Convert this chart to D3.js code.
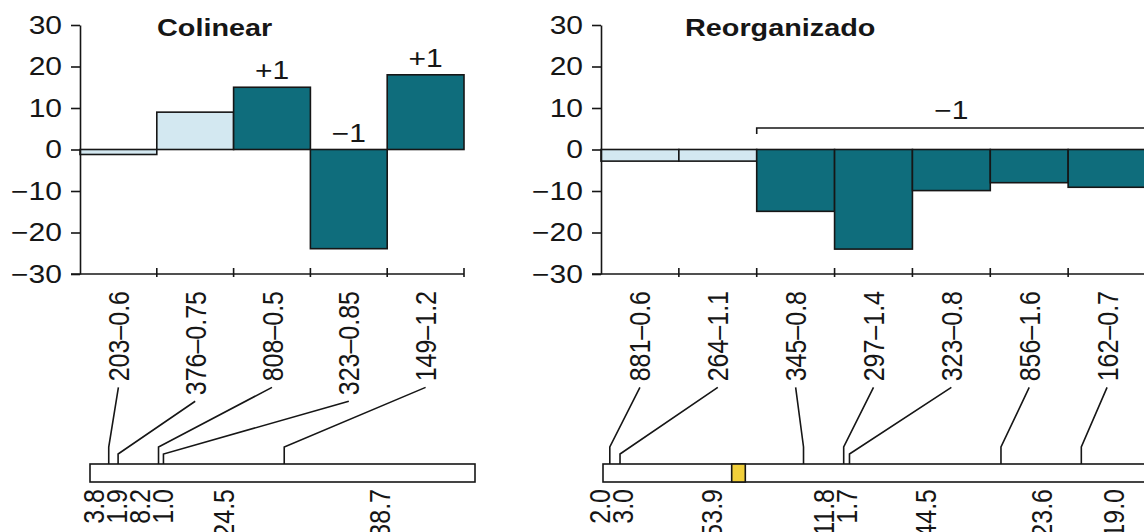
<!DOCTYPE html>
<html>
<head>
<meta charset="utf-8">
<script src="https://cdn.jsdelivr.net/npm/d3@7"></script>
<style>
  html, body { margin: 0; padding: 0; background: #fff; }
  svg { display: block; font-family: "Liberation Sans", Arial, Helvetica, sans-serif; }
</style>
</head>
<body>
<svg id="chart" width="1144" height="532"></svg>
<script>
// ---- data -------------------------------------------------------------
const yTicks = [-30, -20, -10, 0, 10, 20, 30];

// Colinear block
const colTitle = "Colinear";
const colMarkers = ["203–0.6", "376–0.75", "808–0.5", "323–0.85", "149–1.2"];
const colValues = [-1.2, 9.0, 15.0, -23.9, 18.0];
const colChanged = [false, false, true, true, true];
const colShift = ["", "", "+1", "−1", "+1"];
const colGaps = [3.8, 1.9, 8.2, 1.0, 24.5, 38.7];

// Reorganised block
const reoTitle = "Reorganizado";
const reoMarkers = ["881–0.6", "264–1.1", "345–0.8", "297–1.4", "323–0.8", "856–1.6", "162–0.7"];
const reoValues = [-2.8, -2.8, -14.9, -24.0, -9.9, -8.0, -9.1];
const reoChanged = [false, false, true, true, true, true, true];
const reoGaps = [2.0, 3.0, 53.9, 11.8, 1.7, 44.5, 23.6, 19.0];
const reoCentromere = [37.8, 41.8];
const reoBracket = { first: 2, last: 6, label: "−1" };

// ---- style ------------------------------------------------------------
const INK = "#161616";
const DARK = "#0f6d7c";
const LIGHT = "#d3e8f1";
const YELLOW = "#f1cf3b";
const SX = 1.2;          // horizontal widening of all lettering
const FS = 25;           // base font size

const svg = d3.select("#chart");

const y = d3.scaleLinear().domain([-30, 30]).range([274, 25]);

// distance labels: keep them at segment midpoints, pushing crowded ones apart
function spread(xs, gap) {
  let clusters = xs.map((x, i) => ({ ids: [i], center: x }));
  let changed = true;
  while (changed) {
    changed = false;
    for (let i = 0; i < clusters.length - 1; i++) {
      const a = clusters[i], b = clusters[i + 1];
      const aEnd = a.center + (a.ids.length - 1) * gap / 2;
      const bStart = b.center - (b.ids.length - 1) * gap / 2;
      if (bStart - aEnd < gap) {
        const ids = a.ids.concat(b.ids);
        clusters.splice(i, 2, { ids, center: d3.mean(ids, k => xs[k]) });
        changed = true;
        break;
      }
    }
  }
  const out = [];
  clusters.forEach(c => c.ids.forEach((k, j) => {
    out[k] = c.center + (j - (c.ids.length - 1) / 2) * gap;
  }));
  return out;
}

function panel(opt) {
  const g = svg.append("g");
  const x = d3.scaleBand().domain(opt.markers).range(opt.xRange).padding(0);
  const x0 = opt.xRange[0], x1 = opt.xRange[1];

  // title
  g.append("text")
    .attr("transform", `translate(${opt.titleX},36) scale(${SX},1)`)
    .attr("font-size", 24).attr("font-weight", "bold").attr("fill", INK)
    .text(opt.title);

  // bars
  g.selectAll("rect.bar").data(opt.values).join("rect")
    .attr("class", "bar")
    .attr("x", (d, i) => x(opt.markers[i]))
    .attr("width", x.bandwidth())
    .attr("y", d => y(Math.max(0, d)))
    .attr("height", d => Math.abs(y(d) - y(0)))
    .attr("fill", (d, i) => opt.changed[i] ? DARK : LIGHT)
    .attr("stroke", INK).attr("stroke-width", 1.6);

  // y axis
  const ya = g.append("g").attr("transform", `translate(${x0},0)`)
    .call(d3.axisLeft(y).tickValues(yTicks).tickSize(9).tickSizeOuter(0));
  ya.select(".domain").attr("stroke", INK).attr("stroke-width", 1.6);
  ya.selectAll(".tick line").attr("stroke", INK).attr("stroke-width", 1.6);
  ya.selectAll(".tick text")
    .attr("x", 0)
    .attr("transform", `translate(-18,0) scale(${SX},1)`)
    .attr("font-size", FS).attr("fill", INK)
    .attr("font-family", "Liberation Sans, Arial, sans-serif");

  // x baseline with band-boundary ticks
  g.append("line")
    .attr("x1", x0 - 9).attr("x2", x1).attr("y1", y(-30)).attr("y2", y(-30))
    .attr("stroke", INK).attr("stroke-width", 1.6);
  g.selectAll("line.xt").data(opt.markers).join("line")
    .attr("class", "xt")
    .attr("x1", d => x(d) + x.bandwidth()).attr("x2", d => x(d) + x.bandwidth())
    .attr("y1", y(-30) - 6).attr("y2", y(-30) + 3)
    .attr("stroke", INK).attr("stroke-width", 1.6);

  // copy-number change labels
  if (opt.shift) {
    g.selectAll("text.shift").data(opt.values).join("text")
      .attr("class", "shift")
      .attr("transform", (d, i) =>
        `translate(${x(opt.markers[i]) + x.bandwidth() / 2},${Math.min(y(d), y(0)) - 8}) scale(${SX},1)`)
      .attr("text-anchor", "middle").attr("font-size", FS).attr("fill", INK)
      .text((d, i) => opt.shift[i]);
  }
  if (opt.bracket) {
    const b = opt.bracket;
    const bx0 = x(opt.markers[b.first]);
    const bx1 = x(opt.markers[b.last]) + x.bandwidth();
    g.append("path")
      .attr("d", `M${bx0},${134}V${128}H${bx1}`)
      .attr("fill", "none").attr("stroke", INK).attr("stroke-width", 1.6);
    g.append("text")
      .attr("transform", `translate(${(bx0 + bx1) / 2},119) scale(${SX},1)`)
      .attr("text-anchor", "middle").attr("font-size", FS).attr("fill", INK)
      .text(b.label);
  }

  // rotated marker names under each band
  const labelTop = 291;
  const names = g.selectAll("text.name").data(opt.markers).join("text")
    .attr("class", "name")
    .attr("transform", d =>
      `translate(${x(d) + x.bandwidth() / 2},${labelTop}) scale(${SX},1) rotate(-90)`)
    .attr("text-anchor", "end").attr("dy", "0.35em")
    .attr("font-size", FS).attr("fill", INK)
    .text(d => d);
  const lens = names.nodes().map(n => n.getComputedTextLength());

  // chromosome bar
  const chrTop = 464, chrH = 18;
  const total = d3.sum(opt.gaps);
  const c = d3.scaleLinear().domain([0, total]).range(opt.chrRange);
  const cum = Array.from(d3.cumsum(opt.gaps));
  const markerPos = opt.markers.map((d, i) => c(cum[i]));

  g.append("rect")
    .attr("x", opt.chrRange[0]).attr("y", chrTop)
    .attr("width", opt.chrRange[1] - opt.chrRange[0]).attr("height", chrH)
    .attr("fill", "#fff").attr("stroke", INK).attr("stroke-width", 1.6);
  if (opt.centromere) {
    g.append("rect")
      .attr("x", c(opt.centromere[0])).attr("y", chrTop)
      .attr("width", c(opt.centromere[1]) - c(opt.centromere[0])).attr("height", chrH)
      .attr("fill", YELLOW).attr("stroke", INK).attr("stroke-width", 1.6);
  }

  // connectors from each name to its marker on the chromosome
  g.selectAll("path.link").data(opt.markers).join("path")
    .attr("class", "link")
    .attr("d", (d, i) => {
      const sx = x(d) + x.bandwidth() / 2;
      const sy = labelTop + lens[i] + 6;
      const mx = markerPos[i];
      const crowded = i > 0 && mx - markerPos[i - 1] < 12;
      const ey = crowded ? 454 : 447;
      return `M${sx},${sy}L${mx},${ey}V${chrTop}`;
    })
    .attr("fill", "none").attr("stroke", INK).attr("stroke-width", 1.6);

  // interval lengths under the chromosome
  const edges = [0, ...cum];
  const mids = opt.gaps.map((d, i) => c((edges[i] + edges[i + 1]) / 2));
  const lx = spread(mids, 23);
  g.selectAll("text.gap").data(opt.gaps).join("text")
    .attr("class", "gap")
    .attr("transform", (d, i) => `translate(${lx[i]},489) scale(${SX},1) rotate(-90)`)
    .attr("text-anchor", "end").attr("dy", "0.35em")
    .attr("font-size", FS).attr("fill", INK)
    .text(d => d3.format(".1f")(d));
}

panel({
  title: colTitle, titleX: 157,
  markers: colMarkers, values: colValues, changed: colChanged, shift: colShift,
  gaps: colGaps, xRange: [80, 464], chrRange: [90, 475]
});

panel({
  title: reoTitle, titleX: 685,
  markers: reoMarkers, values: reoValues, changed: reoChanged, bracket: reoBracket,
  gaps: reoGaps, centromere: reoCentromere, xRange: [601, 1146], chrRange: [603, 1146]
});
</script>
</body>
</html>
